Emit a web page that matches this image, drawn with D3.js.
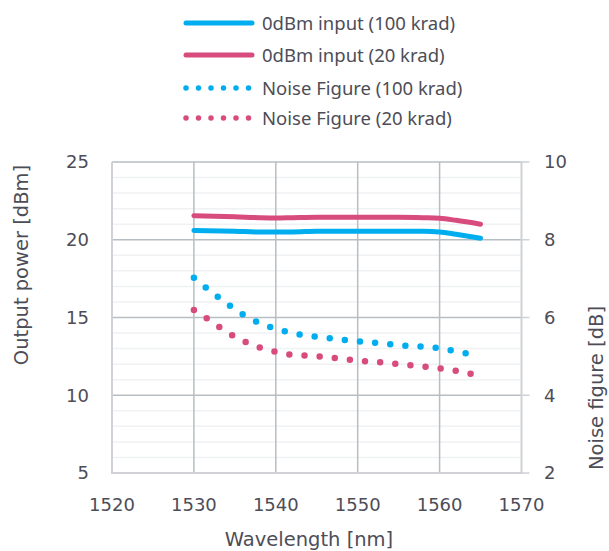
<!DOCTYPE html>
<html><head><meta charset="utf-8">
<script src="https://cdn.jsdelivr.net/npm/d3@7"></script>
<style>body{margin:0;background:#fff}svg{display:block}text{font-family:"DejaVu Sans",sans-serif;fill:#4d4d57}</style>
</head><body><svg id="c" width="609" height="551"></svg>
<script>
const wlPower = [1530,1535,1538,1540,1542,1545,1550,1555,1558,1560,1562,1565];
const power100 = [20.6,20.55,20.5,20.5,20.5,20.55,20.55,20.55,20.55,20.5,20.35,20.1];
const power20 = [21.55,21.48,21.42,21.4,21.42,21.45,21.45,21.45,21.42,21.38,21.25,21.0];
const wlNF = [1530,1532,1534,1536,1538,1540,1542,1544,1546,1548,1550,1552,1554,1556,1558,1560,1562,1564];
const nf100 = [7.02,6.68,6.36,6.08,5.86,5.71,5.60,5.53,5.48,5.43,5.39,5.35,5.31,5.27,5.25,5.21,5.13,5.05];
const nf20 = [6.19,5.92,5.63,5.40,5.23,5.12,5.04,5.02,4.98,4.94,4.89,4.86,4.82,4.78,4.74,4.69,4.63,4.54];
const xTicks = [1520,1530,1540,1550,1560,1570];
const yLeftTicks = [5,10,15,20,25];
const yRightTicks = [2,4,6,8,10];
const seriesNames = ["0dBm input (100 krad)","0dBm input (20 krad)","Noise Figure (100 krad)","Noise Figure (20 krad)"];
const BLUE="#00aeef", PINK="#d84b7d";

const svg=d3.select("#c");
const L=112,R=521.5,T=162,B=473;
const x=d3.scaleLinear().domain([1520,1570]).range([L,R]);
const yL=d3.scaleLinear().domain([5,25]).range([B,T]);
const yR=d3.scaleLinear().domain([2,10]).range([B,T]);
const FS=18, TFS=19.5;

svg.append("g").selectAll("line").data(d3.range(6,25).filter(v=>v%5!==0)).join("line")
 .attr("x1",L).attr("x2",R).attr("y1",d=>yL(d)).attr("y2",d=>yL(d))
 .attr("stroke","#f0f1f3").attr("stroke-width",1.5);
svg.append("g").selectAll("line").data([10,15,20,25]).join("line")
 .attr("x1",L).attr("x2",R).attr("y1",d=>yL(d)).attr("y2",d=>yL(d))
 .attr("stroke","#b7bec3").attr("stroke-width",1.5);
svg.append("g").selectAll("line").data([1530,1540,1550,1560]).join("line")
 .attr("x1",d=>x(d)).attr("x2",d=>x(d)).attr("y1",T).attr("y2",B)
 .attr("stroke","#b7bec3").attr("stroke-width",1.5);
svg.append("line").attr("x1",L).attr("x2",L).attr("y1",T).attr("y2",B).attr("stroke","#cfd1d6").attr("stroke-width",2);
svg.append("line").attr("x1",L-1).attr("x2",R).attr("y1",B).attr("y2",B).attr("stroke","#cfd1d6").attr("stroke-width",2);
svg.append("line").attr("x1",R).attr("x2",R).attr("y1",T).attr("y2",B+1).attr("stroke","#cfd1d6").attr("stroke-width",2);
svg.append("g").selectAll("line").data(yRightTicks).join("line")
 .attr("x1",R).attr("x2",R+8).attr("y1",d=>yR(d)).attr("y2",d=>yR(d))
 .attr("stroke","#cfd1d6").attr("stroke-width",1.5);

svg.append("g").selectAll("text").data(yLeftTicks).join("text")
 .attr("x",89).attr("y",d=>yL(d)).attr("dy","0.36em").attr("text-anchor","end")
 .attr("font-size",FS).text(d=>d);
svg.append("g").selectAll("text").data(yRightTicks).join("text")
 .attr("x",544).attr("y",d=>yR(d)).attr("dy","0.36em").attr("text-anchor","start")
 .attr("font-size",FS).text(d=>d);
svg.append("g").selectAll("text").data(xTicks).join("text")
 .attr("x",d=>x(d)).attr("y",505).attr("dy","0.36em").attr("text-anchor","middle")
 .attr("font-size",FS).text(d=>d);
svg.append("text").attr("transform","translate(21,265) rotate(-90)").attr("dy","0.36em")
 .attr("text-anchor","middle").attr("font-size",TFS).text("Output power [dBm]");
svg.append("text").attr("transform","translate(596,388) rotate(-90)").attr("dy","0.36em")
 .attr("text-anchor","middle").attr("font-size",TFS).text("Noise figure [dB]");
svg.append("text").attr("x",309).attr("y",539).attr("dy","0.36em")
 .attr("text-anchor","middle").attr("font-size",TFS).text("Wavelength [nm]");

const lineL=d3.line().x(d=>x(d[0])).y(d=>yL(d[1])).curve(d3.curveMonotoneX);
const lineR=d3.line().x(d=>x(d[0])).y(d=>yR(d[1])).curve(d3.curveMonotoneX);
svg.append("path").datum(wlPower.map((w,i)=>[w,power100[i]])).attr("d",lineL)
 .attr("fill","none").attr("stroke",BLUE).attr("stroke-width",5).attr("stroke-linecap","round");
svg.append("path").datum(wlPower.map((w,i)=>[w,power20[i]])).attr("d",lineL)
 .attr("fill","none").attr("stroke",PINK).attr("stroke-width",5).attr("stroke-linecap","round");
svg.append("path").datum(wlNF.map((w,i)=>[w,nf100[i]])).attr("d",lineR)
 .attr("fill","none").attr("stroke",BLUE).attr("stroke-width",6.5).attr("stroke-linecap","round")
 .attr("stroke-dasharray","0 15.2");
svg.append("path").datum(wlNF.map((w,i)=>[w,nf20[i]])).attr("d",lineR)
 .attr("fill","none").attr("stroke",PINK).attr("stroke-width",6.5).attr("stroke-linecap","round")
 .attr("stroke-dasharray","0 15.2");

const lg=svg.append("g");
const ly=[23,55,88,118];
const styles=[{c:BLUE,d:null},{c:PINK,d:null},{c:BLUE,d:"0 12.5"},{c:PINK,d:"0 12.5"}];
seriesNames.forEach((n,i)=>{
  const l=lg.append("line").attr("x1",186).attr("x2",styles[i].d?250:252).attr("y1",ly[i]).attr("y2",ly[i])
   .attr("stroke",styles[i].c).attr("stroke-width",styles[i].d?5.5:5).attr("stroke-linecap","round");
  if(styles[i].d) l.attr("stroke-dasharray",styles[i].d);
  lg.append("text").attr("x",262).attr("y",ly[i]).attr("dy","0.36em")
   .style("font-family","'Noto Sans',sans-serif").attr("font-size",18.5).text(n);
});
</script></body></html>
